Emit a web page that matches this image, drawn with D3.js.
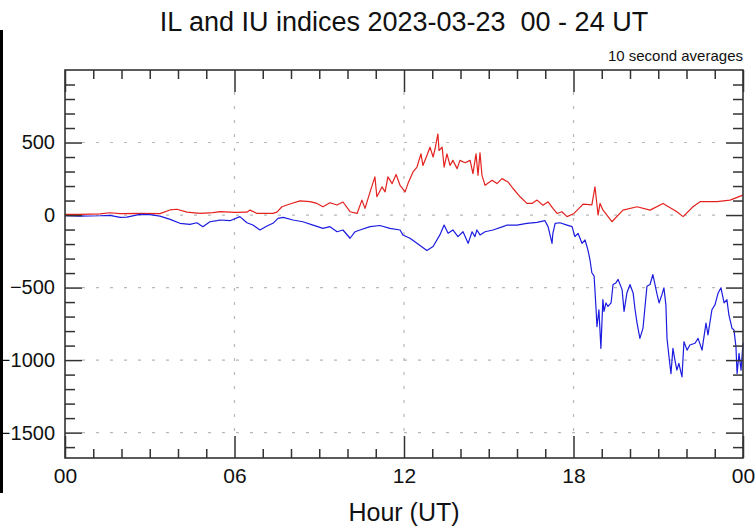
<!DOCTYPE html>
<html>
<head>
<meta charset="utf-8">
<script src="https://cdn.jsdelivr.net/npm/d3@7"></script>
<style>
  body { margin: 0; background: #fff; }
  svg { display: block; font-family: "Liberation Sans", Arial, sans-serif; }
</style>
</head>
<body>
<div id="main"></div>
<script>
const WIDTH = 756;
const HEIGHT = 529;
const MARGIN = { top: 70, right: 13, bottom: 71, left: 65 };

const TITLE = 'IL and IU indices 2023-03-23  00 - 24 UT';
const SUBTITLE = '10 second averages';
const X_LABEL = 'Hour (UT)';

const X_DOMAIN = [0, 24];
const X_TICKS = [0, 6, 12, 18, 24];
const X_TICK_LABELS = ['00', '06', '12', '18', '00'];
const Y_DOMAIN = [-1675, 1000];
const Y_TICKS = [500, 0, -500, -1000, -1500];

// IU (upper envelope)
const IU_HOURS = [
  0, 0.53, 1.24, 1.59, 1.95, 2.65, 3.36, 3.72, 3.96, 4.32, 4.78, 5.24, 5.49, 6.02, 6.44, 6.55,
  6.80, 7.36, 7.50, 7.68, 7.96, 8.32, 8.67, 8.92, 9.13, 9.38, 9.63, 9.84, 10.09, 10.34, 10.51,
  10.62, 10.80, 10.97, 11.04, 11.22, 11.33, 11.43, 11.58, 11.72, 11.86, 12.04, 12.14, 12.32,
  12.46, 12.60, 12.67, 12.81, 12.92, 13.03, 13.10, 13.20, 13.24, 13.35, 13.42, 13.52, 13.63,
  13.73, 13.88, 13.98, 14.16, 14.34, 14.44, 14.55, 14.62, 14.69, 14.76, 14.87, 15.12, 15.29,
  15.47, 15.68, 15.86, 16.11, 16.35, 16.53, 16.71, 16.92, 17.10, 17.27, 17.42, 17.59, 17.77,
  18.02, 18.34, 18.65, 18.76, 18.87, 18.94, 19.04, 19.36, 19.75, 20.25, 20.71, 21.17, 21.66,
  21.88, 22.23, 22.48, 23.08, 23.54, 24
];
const IU_VALUES = [
  5, 5, 8, 16, 10, 12, 10, 35, 40, 20, 12, 17, 23, 18, 20, 34,
  11, 12, 20, 57, 76, 98, 92, 80, 57, 85, 69, 90, 23, 11, 103,
  46, 160, 263, 126, 194, 160, 263, 217, 279, 205, 160, 217, 297,
  331, 422, 342, 411, 468, 400, 457, 559, 445, 468, 331, 422, 342,
  377, 320, 377, 361, 377, 285, 422, 274, 429, 274, 205, 240, 217,
  251, 228, 183, 126, 80, 80, 103, 68, 91, 46, 11, 23, -11,
  11, 75, 70, 195, 0, 80, 35, -46, 34, 57, 34, 80, 23,
  -11, 57, 92, 92, 103, 137
];

// IL (lower envelope)
const IL_HOURS = [
  0, 0.53, 1.24, 1.59, 1.95, 2.19, 2.65, 3.01, 3.36, 3.72, 4.07, 4.42, 4.67, 4.88, 5.13, 5.38,
  5.49, 5.84, 6.19, 6.44, 6.65, 6.90, 7.15, 7.36, 7.54, 7.72, 8.07, 8.42, 8.78, 9.13, 9.38,
  9.63, 9.84, 10.09, 10.27, 10.44, 10.80, 11.15, 11.50, 11.86, 11.96, 12.21, 12.46, 12.81,
  13.03, 13.27, 13.42, 13.56, 13.73, 13.91, 14.09, 14.27, 14.41, 14.51, 14.58, 14.69, 14.87,
  15.15, 15.50, 15.65, 16.00, 16.35, 16.71, 16.99, 17.10, 17.24, 17.27, 17.35, 17.52, 17.77,
  17.95, 18.05, 18.16, 18.30, 18.41, 18.51, 18.58, 18.65, 18.73, 18.80, 18.83, 18.90, 18.97,
  19.04, 19.08, 19.15, 19.22, 19.33, 19.40, 19.50, 19.58, 19.72, 19.79, 19.89, 20.00, 20.11,
  20.18, 20.25, 20.35, 20.46, 20.60, 20.71, 20.81, 20.96, 21.03, 21.13, 21.20, 21.27, 21.31,
  21.38, 21.45, 21.52, 21.59, 21.66, 21.73, 21.84, 21.91, 22.02, 22.12, 22.30, 22.41, 22.55,
  22.69, 22.76, 22.90, 23.01, 23.12, 23.22, 23.33, 23.43, 23.50, 23.61, 23.68, 23.75, 23.79,
  23.86, 23.93, 24
];
const IL_VALUES = [
  -5, -8, -5, -2, -16, -14, 5, 3, -7, -30, -57, -64, -53, -80, -46, -39,
  -34, -39, -11, -53, -69, -103, -76, -57, -23, -16, -34, -46, -69, -92, -80,
  -115, -103, -160, -115, -103, -80, -72, -92, -103, -137, -160, -195, -245,
  -217, -137, -69, -126, -103, -149, -115, -195, -115, -149, -103, -137, -115,
  -103, -80, -69, -69, -57, -50, -39, -80, -195, -126, -57, -53, -69,
  -80, -149, -126, -195, -172, -240, -305, -398, -421, -653, -769, -653, -919,
  -583, -664, -606, -630, -606, -479, -468, -444, -514, -664, -537, -479, -537,
  -653, -745, -850, -780, -491, -479, -410, -549, -606, -549, -502, -618, -850,
  -977, -1093, -919, -1000, -1069, -1023, -1116, -873, -931, -896, -884, -850, -931,
  -745, -826, -653, -618, -537, -502, -606, -583, -688, -780, -792, -907, -1093,
  -954, -1069, -884
];

const SERIES = [
  { name: 'IU', hours: IU_HOURS, values: IU_VALUES, color: '#e3221f' },
  { name: 'IL', hours: IL_HOURS, values: IL_VALUES, color: '#1c1ce0' }
];

/**
 * Node getters
 */
function getSvg() {
  if (d3.select('#main').select('svg').nodes().length) {
    return d3.select('#main').select('svg');
  }
  return d3.select('#main')
    .append('svg')
    .attr('width', WIDTH)
    .attr('height', HEIGHT)
    .attr('viewBox', [0, 0, WIDTH, HEIGHT]);
}

function styleTicks(g, fontSize = 21) {
  g.select('.domain').remove();
  g.selectAll('.tick line')
    .attr('stroke', '#333')
    .attr('stroke-width', 1.5);
  g.selectAll('.tick text')
    .attr('fill', '#111')
    .attr('font-size', fontSize);
}

/**
 * Render
 */
function renderGrid(x, y) {
  const svg = getSvg();
  const grid = svg.append('g')
    .attr('stroke', '#b8b8b8')
    .attr('stroke-width', 1.2)
    .attr('stroke-dasharray', '3,11');

  grid.selectAll('.hgrid')
    .data(Y_TICKS)
    .join('line')
    .attr('x1', x(0) + 17)
    .attr('x2', x(24) - 17)
    .attr('y1', d => y(d))
    .attr('y2', d => y(d));

  grid.selectAll('.vgrid')
    .data(X_TICKS.slice(1, -1))
    .join('line')
    .attr('x1', d => x(d))
    .attr('x2', d => x(d))
    .attr('y1', y(Y_DOMAIN[1]) + 22)
    .attr('y2', y(Y_DOMAIN[0]) - 22);
}

function renderAxes(x, y) {
  const svg = getSvg();
  const [x0, x1] = x.range();
  const [y0, y1] = y.range();
  const minorX = d3.range(0, 25).filter(h => h % 6 !== 0);
  const minorY = d3.range(-1600, 1000, 100).filter(v => v % 500 !== 0);

  // bottom
  svg.append('g').attr('transform', `translate(0,${y0})`)
    .call(d3.axisBottom(x).tickValues(minorX).tickSize(-9).tickFormat(''))
    .call(styleTicks);
  svg.append('g').attr('transform', `translate(0,${y0})`)
    .call(d3.axisBottom(x).tickValues(X_TICKS).tickSize(-22).tickPadding(10)
      .tickFormat((d, i) => X_TICK_LABELS[i]))
    .call(styleTicks);

  // top
  svg.append('g').attr('transform', `translate(0,${y1})`)
    .call(d3.axisTop(x).tickValues(minorX).tickSize(-9).tickFormat(''))
    .call(styleTicks);
  svg.append('g').attr('transform', `translate(0,${y1})`)
    .call(d3.axisTop(x).tickValues(X_TICKS).tickSize(-22).tickFormat(''))
    .call(styleTicks);

  // left
  svg.append('g').attr('transform', `translate(${x0},0)`)
    .call(d3.axisLeft(y).tickValues(minorY).tickSize(-10).tickFormat(''))
    .call(styleTicks);
  svg.append('g').attr('transform', `translate(${x0},0)`)
    .call(d3.axisLeft(y).tickValues(Y_TICKS).tickSize(-17).tickPadding(10)
      .tickFormat(d3.format('d')))
    .call(g => styleTicks(g, 20));

  // right
  svg.append('g').attr('transform', `translate(${x1},0)`)
    .call(d3.axisRight(y).tickValues(minorY).tickSize(-10).tickFormat(''))
    .call(styleTicks);
  svg.append('g').attr('transform', `translate(${x1},0)`)
    .call(d3.axisRight(y).tickValues(Y_TICKS).tickSize(-17).tickFormat(''))
    .call(styleTicks);

  // frame
  svg.append('rect')
    .attr('x', x0)
    .attr('y', y1)
    .attr('width', x1 - x0)
    .attr('height', y0 - y1)
    .attr('fill', 'none')
    .attr('stroke', '#333')
    .attr('stroke-width', 1.6);
}

function renderLines(x, y) {
  const svg = getSvg();
  const line = d3.line()
    .x(d => x(d[0]))
    .y(d => y(d[1]));

  svg.append('g')
    .selectAll('path')
    .data(SERIES)
    .join('path')
    .attr('d', s => line(d3.zip(s.hours, s.values)))
    .attr('fill', 'none')
    .attr('stroke', s => s.color)
    .attr('stroke-width', 1.2)
    .attr('stroke-linejoin', 'round');
}

function renderText(x) {
  const svg = getSvg();
  const cx = (x.range()[0] + x.range()[1]) / 2;

  svg.append('text')
    .attr('x', cx)
    .attr('y', 31)
    .attr('text-anchor', 'middle')
    .attr('font-size', 27)
    .attr('fill', '#111')
    .style('white-space', 'pre')
    .text(TITLE);

  svg.append('text')
    .attr('x', x.range()[1])
    .attr('y', 61)
    .attr('text-anchor', 'end')
    .attr('font-size', 15)
    .attr('fill', '#111')
    .text(SUBTITLE);

  svg.append('text')
    .attr('x', cx)
    .attr('y', 521)
    .attr('text-anchor', 'middle')
    .attr('font-size', 25)
    .attr('fill', '#111')
    .text(X_LABEL);
}

function renderEdge() {
  // dark strip along the left edge of the picture
  getSvg().append('rect')
    .attr('x', 0)
    .attr('y', 30)
    .attr('width', 3)
    .attr('height', 463)
    .attr('fill', '#000');
}

function render() {
  const x = d3.scaleLinear().domain(X_DOMAIN).range([MARGIN.left, WIDTH - MARGIN.right]);
  const y = d3.scaleLinear().domain(Y_DOMAIN).range([HEIGHT - MARGIN.bottom, MARGIN.top]);

  renderGrid(x, y);
  renderLines(x, y);
  renderAxes(x, y);
  renderText(x);
  renderEdge();
}

render();
</script>
</body>
</html>
